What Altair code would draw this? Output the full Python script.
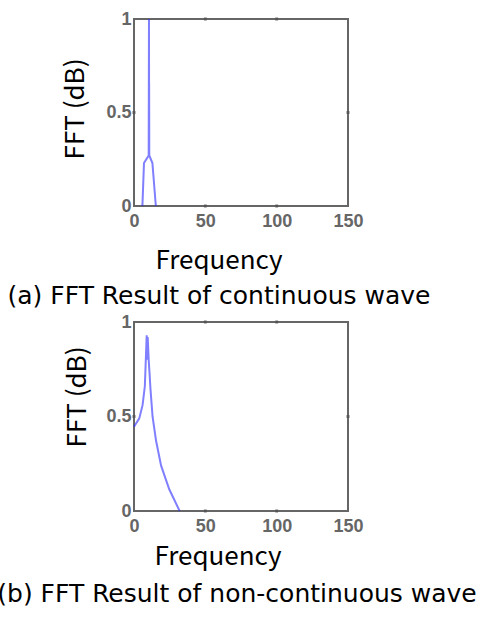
import altair as alt
import pandas as pd

# ---- data ----
cont_freq = [5.9, 7.0, 10.3, 10.5, 10.6, 10.6, 10.7, 12.9, 15.3]
cont_amp = [0.0, 0.23, 0.27, 1.0, 0.27, 0.66, 0.27, 0.23, 0.0]

noncont_freq = [0, 3.7, 6.0, 7.6, 8.9, 9.3, 9.6, 10.3, 10.8, 11.5, 13.0, 15.5, 19.0, 24.7, 32.0]
noncont_amp = [0.446, 0.49, 0.56, 0.66, 0.93, 0.80, 0.92, 0.80, 0.74, 0.65, 0.50, 0.37, 0.24, 0.115, 0.0]

x_ticks = [0, 50, 100, 150]
y_ticks = [0, 0.5, 1]
x_title = "Frequency"
y_title = "FFT (dB)"
captions = ["(a) FFT Result of continuous wave", "(b) FFT Result of non-continuous wave"]

TITLE_FONT = "Noto Sans CJK KR"
CAPTION_FONT = "DejaVu Sans"
LABEL_FONT = "Liberation Sans"
LINE_COLOR = "#2a2aff"


def panel(freq, amp, w, h, caption, fx, fy, cx, cy, yx, yy):
    df = pd.DataFrame({"freq": freq, "amp": amp, "idx": list(range(len(freq)))})
    xs = alt.Scale(domain=[0, 150], nice=False, zero=False)
    ys = alt.Scale(domain=[0, 1], nice=False)
    line = alt.Chart(df).mark_line(color=LINE_COLOR, strokeWidth=2, opacity=0.6).encode(
        x=alt.X("freq:Q", scale=xs,
                axis=alt.Axis(values=x_ticks, title=None, grid=False, ticks=False, domain=False,
                              labelFont=LABEL_FONT, labelFontSize=18, labelFontWeight="bold",
                              labelColor="#666", labelPadding=6, labelFlush=False)),
        y=alt.Y("amp:Q", scale=ys,
                axis=alt.Axis(values=y_ticks, title=None, grid=False, ticks=False, domain=False,
                              labelFont=LABEL_FONT, labelFontSize=18, labelFontWeight="bold",
                              labelColor="#666", labelPadding=3, labelFlush=False,
                              labelExpr="datum.value == 0.5 ? '0.5' : format(datum.value, 'd')")),
        order="idx:Q",
    )
    # small inward tick marks on the frame
    tick_df = pd.DataFrame({
        "tx": [50, 100, 50, 100, 0, 150],
        "ty": [0, 0, 1, 1, 0.5, 0.5],
    })
    ticks = alt.Chart(tick_df).mark_square(size=8, color="#555", opacity=1).encode(
        x=alt.X("tx:Q", scale=xs), y=alt.Y("ty:Q", scale=ys)
    )
    fdf = pd.DataFrame({"t": [x_title]})
    ftext = alt.Chart(fdf).mark_text(font=TITLE_FONT, fontSize=26, color="black",
                                     baseline="alphabetic", align="center").encode(
        x=alt.value(fx), y=alt.value(fy), text="t:N")
    ydf = pd.DataFrame({"t": [y_title]})
    ytext = alt.Chart(ydf).mark_text(font=TITLE_FONT, fontSize=26, color="black",
                                     baseline="middle", align="center", angle=270).encode(
        x=alt.value(yx), y=alt.value(yy), text="t:N")
    cdf = pd.DataFrame({"t": [caption]})
    ctext = alt.Chart(cdf).mark_text(font=CAPTION_FONT, fontSize=25, color="black",
                                     baseline="alphabetic", align="center").encode(
        x=alt.value(cx), y=alt.value(cy), text="t:N")
    return alt.layer(line, ticks, ftext, ytext, ctext).properties(width=w, height=h)


top = panel(cont_freq, cont_amp, 214, 187, captions[0],
            fx=85, fy=250, cx=85, cy=285, yx=-58, yy=90)
bottom = panel(noncont_freq, noncont_amp, 214, 189, captions[1],
               fx=84, fy=243, cx=103, cy=280, yx=-56, yy=75)

chart = alt.vconcat(top, bottom, spacing=2).properties(
    padding={"left": -4, "top": 9, "right": 0, "bottom": 5}
).configure(background="white").configure_view(stroke="#666", strokeWidth=2)

chart.save("out.html", embed_options={"renderer": "svg", "actions": False})
